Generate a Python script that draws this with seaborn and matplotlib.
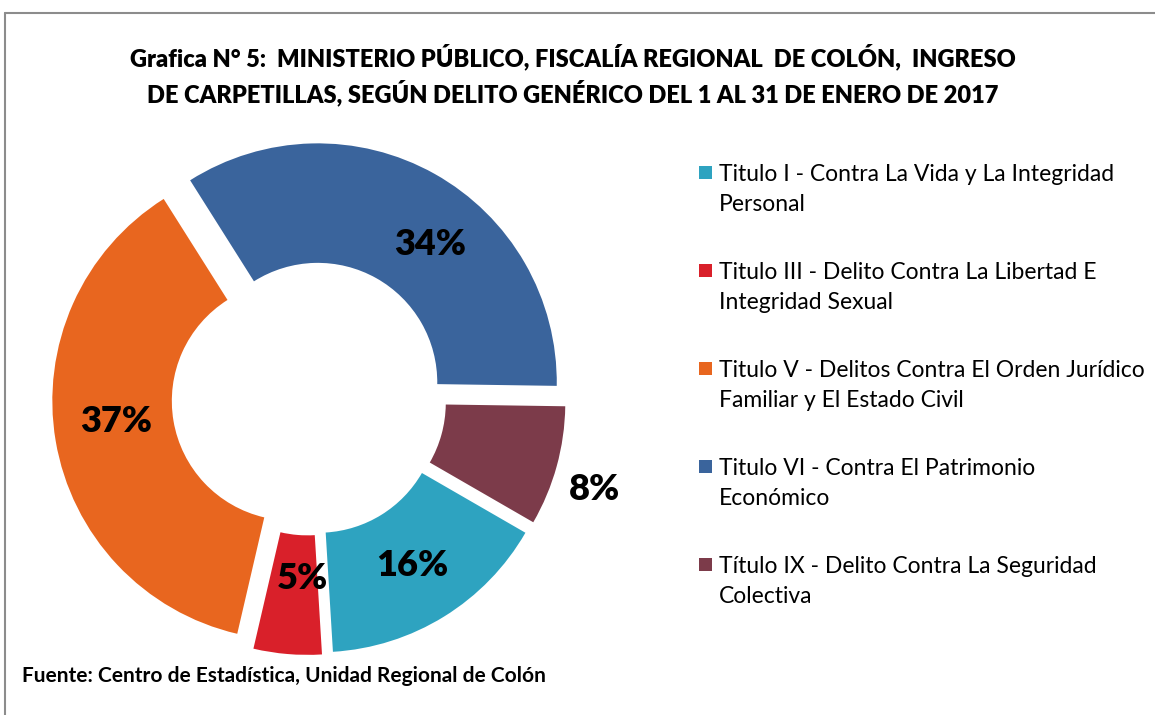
import numpy as np
import matplotlib
matplotlib.use("Agg")
import matplotlib.pyplot as plt
import seaborn as sns
from matplotlib.patches import Rectangle

sns.set_theme(style="white")
plt.rcParams['font.family'] = ['Lato', 'DejaVu Sans']

# ---- data ----
categories = [
    "Titulo I - Contra La Vida y La Integridad\nPersonal",
    "Titulo III - Delito Contra La Libertad E\nIntegridad Sexual",
    "Titulo V - Delitos Contra El Orden Jurídico\nFamiliar y El Estado Civil",
    "Titulo VI - Contra El Patrimonio\nEconómico",
    "Título IX - Delito Contra La Seguridad\nColectiva",
]
values = [15.7, 4.6, 37.4, 34.2, 8.1]
pct_labels = ["16%", "5%", "37%", "34%", "8%"]
colors = ["#2EA3C0", "#D9202A", "#E8661F", "#3A649C", "#7C3B4A"]

title = ("Grafica N° 5:  MINISTERIO PÚBLICO, FISCALÍA REGIONAL  DE COLÓN,  INGRESO\n"
         "DE CARPETILLAS, SEGÚN DELITO GENÉRICO DEL 1 AL 31 DE ENERO DE 2017")
source = "Fuente: Centro de Estadística, Unidad Regional de Colón"

W, H = 1155, 715
fig = plt.figure(figsize=(W / 100, H / 100), dpi=100)
fig.patch.set_facecolor("white")

# frame (gray border at top and left)
fig.add_artist(plt.Line2D([5 / W, 1.0], [1 - 13 / H, 1 - 13 / H], color="#8c8c8c", lw=1.5))
fig.add_artist(plt.Line2D([5 / W, 5 / W], [0, 1 - 13 / H], color="#8c8c8c", lw=1.5))

# pie axes: radius 239 px, center at (309, 398) px from top-left
R = 239
lim = 1.25
span = 2 * lim * R
cx, cy = 309, 398
ax = fig.add_axes([(cx - span / 2) / W, (H - cy - span / 2) / H, span / W, span / H])
ax.set_xlim(-lim, lim)
ax.set_ylim(-lim, lim)
ax.set_aspect("equal")
ax.axis("off")

explode_amt = 0.075
wedges, _ = ax.pie(values, colors=colors, startangle=-30, counterclock=False,
                   explode=[explode_amt] * len(values),
                   wedgeprops=dict(width=0.5, linewidth=0),
                   radius=1.0, frame=False)
ax.set_xlim(-lim, lim)
ax.set_ylim(-lim, lim)

lab_r = [0.75, 0.68, 0.74, 0.745, 1.18]
lab_off = [0.0, 3.0, -3.0, -10.0, -2.5]
for w, lab, rr, off in zip(wedges, pct_labels, lab_r, lab_off):
    mid = np.deg2rad((w.theta1 + w.theta2) / 2)
    ang = np.deg2rad((w.theta1 + w.theta2) / 2 + off)
    x = explode_amt * np.cos(mid) + rr * np.cos(ang)
    y = explode_amt * np.sin(mid) + rr * np.sin(ang)
    ax.text(x, y, lab, ha="center", va="center", fontsize=26, fontweight="heavy", color="black")

# title
fig.text(573 / W, 1 - 75 / H, title, ha="center", va="center", fontsize=17.0,
         fontweight="heavy", linespacing=1.45, color="black")

# legend (manual, square aligned with first line)
leg_y0 = 173
leg_dy = 98
for i, (lab, col) in enumerate(zip(categories, colors)):
    yy = leg_y0 + i * leg_dy
    fig.add_artist(Rectangle((699 / W, 1 - (yy + 6) / H), 13 / W, 13 / H,
                             transform=fig.transFigure, color=col, lw=0))
    fig.text(719 / W, 1 - (yy - 9) / H, lab, ha="left", va="top", fontsize=16.5,
             linespacing=1.52, color="black")

# source
fig.text(22 / W, 1 - 676 / H, source, ha="left", va="center", fontsize=15,
         fontweight="bold", color="black")

fig.savefig("out.png", dpi=100, facecolor="white")
